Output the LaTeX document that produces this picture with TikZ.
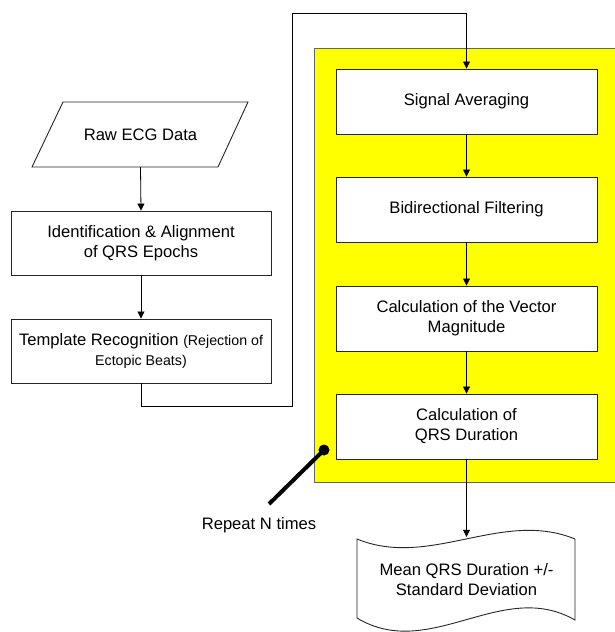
\documentclass[tikz,border=0pt]{standalone}
\usepackage{fontspec}
\setmainfont{Liberation Sans}
\usetikzlibrary{arrows.meta}
\definecolor{ylw}{RGB}{255,255,0}
\begin{document}
\begin{tikzpicture}[x=1pt,y=-1pt,
  lbl/.style={font=\fontsize{16.6}{20}\selectfont, align=center, inner sep=0pt},
  procbox/.style={lbl, draw=black!85, line width=0.9pt, fill=white},
  leftbox/.style={procbox, minimum width=260pt, minimum height=64pt},
  rightbox/.style={procbox, minimum width=261pt, minimum height=65pt},
  arr/.style={draw=black, line width=0.8pt, -{Triangle[length=7pt,width=7pt]}}
]
\useasboundingbox (0,0) rectangle (615,632);
% yellow loop region
\fill[ylw, draw=black!60, line width=0.8pt] (314,48) rectangle (625,482);

% input parallelogram
\draw[black!85, line width=0.9pt, fill=white] (63,102) -- (248,102) -- (218,167) -- (32,167) -- cycle;
\node[lbl, minimum height=65pt] (raw) at (140.5,134.5) {Raw ECG Data};

% left boxes
\node[leftbox] (ident) at (141,243) {Identification \& Alignment\\of QRS Epochs};
\node[leftbox] (tmpl) at (141,351) {Template Recognition {\fontsize{14.2}{17}\selectfont(Rejection of}\\{\fontsize{14.2}{17}\selectfont Ectopic Beats)}};

% right boxes
\node[rightbox] (sig) at (466.5,101.5) {Signal Averaging};
\node[rightbox] (bidir) at (466.5,209.5) {Bidirectional Filtering};
\node[rightbox] (vec) at (466.5,318.5) {Calculation of the Vector\\Magnitude};
\node[rightbox] (qrs) at (466.5,426.5) {Calculation of\\QRS Duration};

% output tape shape
\draw[black!85, line width=0.9pt, fill=white]
  (357,539) .. controls (430,569) and (502,509) .. (575,539)
  -- (575,620) .. controls (502,578) and (430,662) .. (357,618) -- cycle;
\node[lbl, minimum height=86pt] (out) at (466.5,580) {Mean QRS Duration +/-\\Standard Deviation};

% connectors
\coordinate (c1) at (292,406);
\coordinate (c2) at (292,13);
\draw[arr] (raw.south) -- (ident.north);
\draw[arr] (ident.south) -- (tmpl.north);
\draw[arr] (tmpl.south) |- (c1) -- (c2) -| (sig.north);
\draw[arr] (sig.south) -- (bidir.north);
\draw[arr] (bidir.south) -- (vec.north);
\draw[arr] (vec.south) -- (qrs.north);
\draw[arr] (qrs.south) -- (out.north);

% callout
\coordinate (rp1) at (324,450);
\coordinate (rp0) at (269,504);
\draw[line width=4pt] (rp0) -- (rp1);
\fill (rp1) circle (5.5);
\node[lbl] (rep) at (259,525) {Repeat N times};
\end{tikzpicture}
\end{document}
